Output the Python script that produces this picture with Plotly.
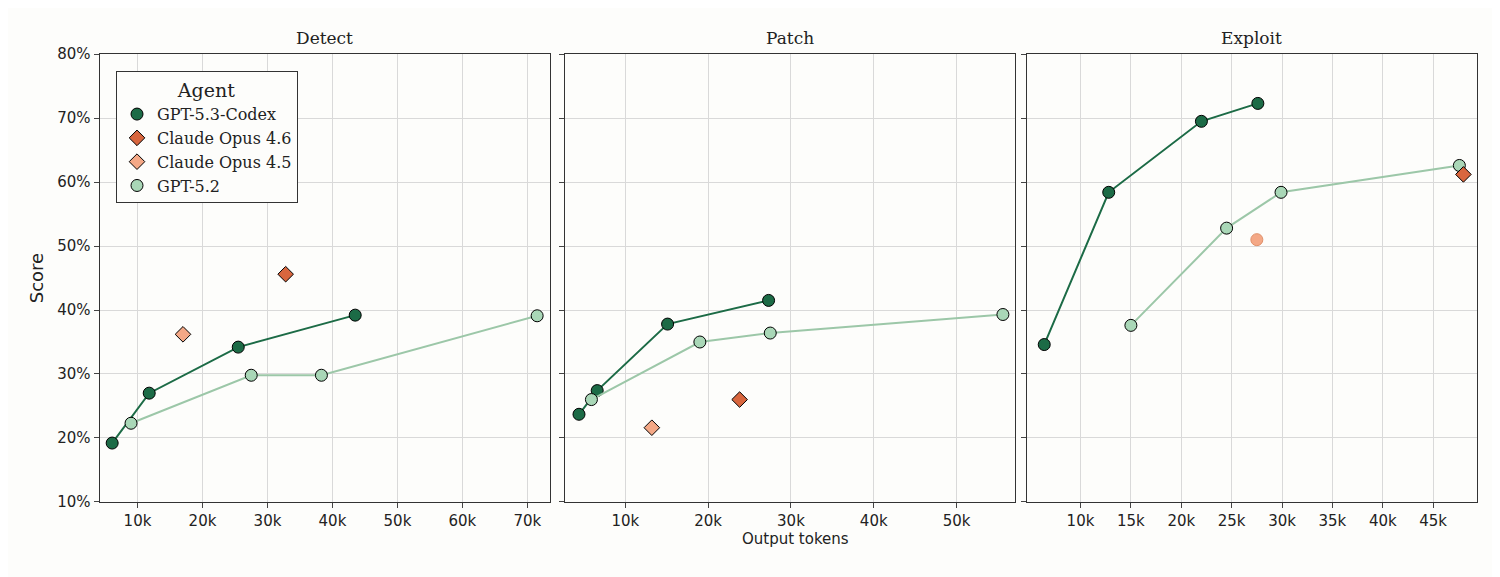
import plotly.graph_objects as go

panels = ["Detect", "Patch", "Exploit"]
codex_x = [[6.1e3, 11.8e3, 25.5e3, 43.5e3], [4.4e3, 6.6e3, 15.1e3, 27.3e3], [6.4e3, 12.8e3, 22e3, 27.6e3]]
codex_y = [[19.2, 27.0, 34.2, 39.2], [23.7, 27.4, 37.8, 41.5], [34.6, 58.4, 69.5, 72.3]]
gpt52_x = [[9e3, 27.5e3, 38.3e3, 71.5e3], [5.9e3, 19e3, 27.5e3, 55.6e3], [15e3, 24.5e3, 29.9e3, 47.6e3]]
gpt52_y = [[22.3, 29.8, 29.8, 39.1], [26.0, 35.0, 36.4, 39.3], [37.6, 52.8, 58.4, 62.6]]
op46_x = [[32.8e3], [23.8e3], [48.0e3]]
op46_y = [[45.6], [26.0], [61.2]]
op45_x = [[17e3], [13.2e3], []]
op45_y = [[36.2], [21.6], []]
op45c_x = [27.5e3]
op45c_y = [51.0]
xranges = [[4.15e3, 73.4e3], [2.65e3, 57e3], [4.64e3, 49.3e3]]
xticks = [[10e3, 20e3, 30e3, 40e3, 50e3, 60e3, 70e3], [10e3, 20e3, 30e3, 40e3, 50e3],
          [10e3, 15e3, 20e3, 25e3, 30e3, 35e3, 40e3, 45e3]]
yticks = [10, 20, 30, 40, 50, 60, 70, 80]

C_CODEX, C_46, C_45, C_52 = "#1c6b46", "#d8663e", "#f4a886", "#a9d7b7"
domains = [[0.061, 0.361], [0.371, 0.671], [0.679, 0.979]]
fig = go.Figure()
for i in range(3):
    xa = "x" if i == 0 else f"x{i+1}"
    ya = "y" if i == 0 else f"y{i+1}"
    fig.add_trace(go.Scatter(x=codex_x[i], y=codex_y[i], xaxis=xa, yaxis=ya, mode="lines+markers",
        showlegend=False, line=dict(color=C_CODEX, width=2),
        marker=dict(size=12, color=C_CODEX, line=dict(color="black", width=1))))
    fig.add_trace(go.Scatter(x=gpt52_x[i], y=gpt52_y[i], xaxis=xa, yaxis=ya, mode="lines+markers",
        showlegend=False, line=dict(color="#9cc7a8", width=2),
        marker=dict(size=12, color=C_52, line=dict(color="black", width=1))))
    fig.add_trace(go.Scatter(x=op46_x[i], y=op46_y[i], xaxis=xa, yaxis=ya, mode="markers",
        showlegend=False,
        marker=dict(size=12, symbol="diamond", color=C_46, line=dict(color="black", width=1))))
    if op45_x[i]:
        fig.add_trace(go.Scatter(x=op45_x[i], y=op45_y[i], xaxis=xa, yaxis=ya, mode="markers",
            showlegend=False,
            marker=dict(size=12, symbol="diamond", color=C_45, line=dict(color="black", width=1))))
    fig.update_layout({
        ("xaxis" if i == 0 else f"xaxis{i+1}"): dict(domain=domains[i], range=xranges[i], tickvals=xticks[i],
            ticktext=[f"{int(v/1000)}k" for v in xticks[i]], showgrid=True, gridcolor="#d9d9d9",
            showline=True, linecolor="#333", mirror=True, ticks="outside", ticklen=5, zeroline=False,
            anchor=ya, automargin=False),
        ("yaxis" if i == 0 else f"yaxis{i+1}"): dict(domain=[0.144, 0.920], range=[10, 80], tickvals=yticks,
            ticktext=[f"{v}%" for v in yticks] if i == 0 else [""] * len(yticks), showgrid=True,
            gridcolor="#d9d9d9", showline=True, linecolor="#333", mirror=True, ticks="outside", ticklen=5,
            zeroline=False, anchor=xa, automargin=False,
            title=dict(text="Score", standoff=8) if i == 0 else None),
    })
    fig.add_annotation(text=panels[i], x=(domains[i][0] + domains[i][1]) / 2, y=0.948, xref="paper",
                       yref="paper", xanchor="center", yanchor="middle", showarrow=False,
                       font=dict(family="DejaVu Serif", size=17, color="#222"))

fig.add_trace(go.Scatter(x=op45c_x, y=op45c_y, xaxis="x3", yaxis="y3", mode="markers", showlegend=False,
    marker=dict(size=12, color=C_45, line=dict(color="#e0906a", width=1))))

# legend entries (markers only)
for name, sym, col in [("GPT-5.3-Codex", "circle", C_CODEX), ("Claude Opus 4.6", "diamond", C_46),
                       ("Claude Opus 4.5", "diamond", C_45), ("GPT-5.2", "circle", C_52)]:
    fig.add_trace(go.Scatter(x=[None], y=[None], mode="markers", name=name,
        marker=dict(size=12, symbol=sym, color=col, line=dict(color="black", width=1))))

fig.add_annotation(text="Output tokens", x=0.525, y=0.06, xref="paper", yref="paper", showarrow=False,
                   font=dict(family="DejaVu Sans", size=15, color="#222"))
fig.update_layout(
    width=1500, height=577, margin=dict(l=0, r=0, t=0, b=0),
    paper_bgcolor="#fdfdfb", plot_bgcolor="#fdfdfb",
    font=dict(family="DejaVu Sans", size=15, color="#222"),
    legend=dict(x=0.072, y=0.89, xanchor="left", yanchor="top", bgcolor="#fdfdfb", bordercolor="#333",
                borderwidth=1, title=dict(text="Agent", side="top center"),
                font=dict(family="DejaVu Serif", size=16)),
)
fig.write_html("out.html")
